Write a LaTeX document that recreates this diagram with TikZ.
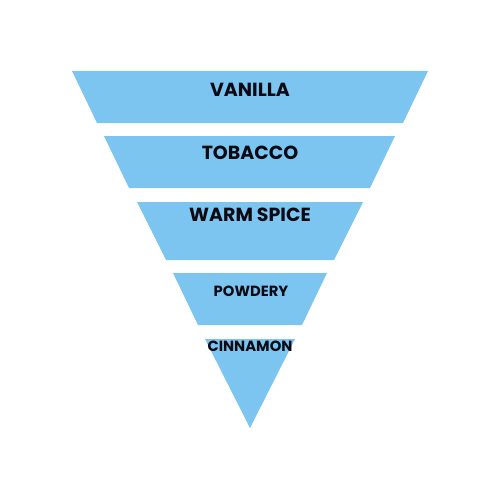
\documentclass[tikz,border=0pt]{standalone}
\usepackage{fontspec}
\setmainfont{Poppins}
\usepackage{tikz}
\usetikzlibrary{positioning}
\usepackage{xcolor}
\definecolor{layerblue}{RGB}{124,197,240}
\definecolor{labelink}{RGB}{10,10,20}
\tikzset{
  layer/.style={fill=layerblue,draw=none},
  lbl/.style={text=labelink,font=\bfseries\fontsize{10.8}{12}\selectfont,inner sep=0pt},
  lblsmall/.style={lbl,font=\bfseries\fontsize{8.4}{10}\selectfont},
}

\begin{document}
\begin{tikzpicture}[x=0.02cm,y=-0.02cm]
    \useasboundingbox (0,0) rectangle (500,500);
    % the inverted pyramid, top to bottom
    \fill[layer] (72,71) -- (428,71) -- (403,123) -- (97,123) -- cycle;
    \fill[layer] (104,136) -- (395,136) -- (370,188) -- (129,188) -- cycle;
    \fill[layer] (137,202) -- (363,202) -- (334,260) -- (166,260) -- cycle;
    \fill[layer] (173,273) -- (327,273) -- (302,325) -- (198,325) -- cycle;
    \fill[layer] (205,339) -- (295,339) -- (250,428) -- cycle;
    % labels
    \node[lbl] (vanilla) at (250,90) {VANILLA};
    \node[lbl] (tobacco) at (250,153) {TOBACCO};
    \node[lbl] (spice) at (250,215) {WARM SPICE};
    \node[lblsmall] (powdery) at (251,291) {POWDERY};
    \node[lblsmall] (cinnamon) at (250,346) {CINNAMON};
\end{tikzpicture}
\end{document}
